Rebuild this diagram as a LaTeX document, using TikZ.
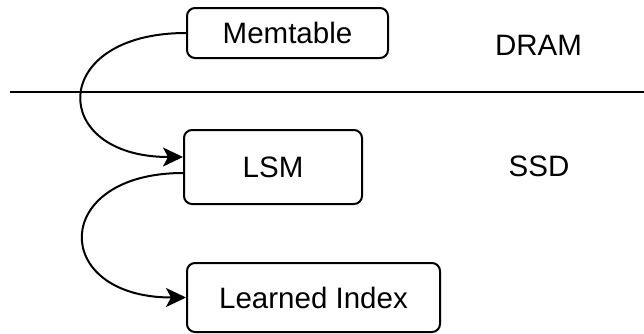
\documentclass[tikz,border=0pt]{standalone}
\usepackage{fontspec}
\setmainfont{Liberation Sans}
\usetikzlibrary{arrows.meta}
\begin{document}
\begin{tikzpicture}[x=1pt,y=-1pt,
  box/.style={draw=black,line width=2pt,rounded corners=8pt,fill=white,inner sep=0pt,font=\fontsize{29.5}{35}\selectfont},
  lbl/.style={inner sep=0pt,font=\fontsize{29.5}{35}\selectfont},
  conn/.style={line width=2pt,-{Stealth[length=20pt,width=19pt,inset=5pt]}},
  sep/.style={line width=2pt}]
\useasboundingbox (0,0) rectangle (644,333);
\node[box,minimum width=201pt,minimum height=50pt] (mem) at (287.5,33) {Memtable};
\node[box,minimum width=178pt,minimum height=74pt] (lsm) at (273,167) {LSM};
\node[box,minimum width=253pt,minimum height=69pt] (li) at (313.5,297.5) {Learned Index};
\node[lbl] (dram) at (538.5,45) {DRAM};
\node[lbl] (ssd) at (539,166) {SSD};
\coordinate (l1) at (10,92);
\coordinate (l2) at (644,92);
\draw[sep] (l1) -- (l2);
\draw[conn] (mem.west) .. controls +(-138,0) and +(-135,0) .. ([yshift=10pt]lsm.west);
\draw[conn] ([yshift=-6pt]lsm.west) .. controls +(-133,0) and +(-136,0) .. (li.west);
\end{tikzpicture}
\end{document}
